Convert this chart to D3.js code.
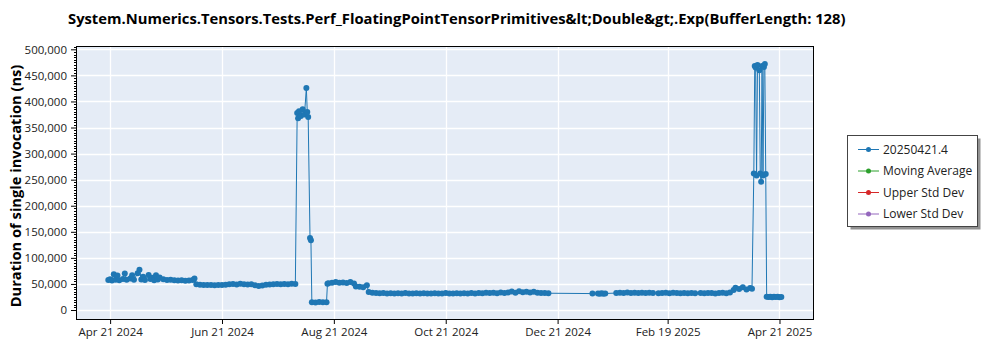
<!DOCTYPE html>
<html>
<head>
<meta charset="utf-8">
<script src="https://cdn.jsdelivr.net/npm/d3@7"></script>
<style>
  body { margin: 0; background: #fff; }
  svg { display: block; }
</style>
</head>
<body>
<script>
var title = 'System.Numerics.Tensors.Tests.Perf_FloatingPointTensorPrimitives&lt;Double&gt;.Exp(BufferLength: 128)';
var yTitle = 'Duration of single invocation (ns)';

var legendLabels = ['20250421.4', 'Moving Average', 'Upper Std Dev', 'Lower Std Dev'];
var legendColors = ['#1f77b4', '#2ca02c', '#d62728', '#9467bd'];

var xTickDates = ['2024-04-21', '2024-06-21', '2024-08-21', '2024-10-21', '2024-12-21', '2025-02-19', '2025-04-21'];
var yTickValues = [0, 50000, 100000, 150000, 200000, 250000, 300000, 350000, 400000, 450000, 500000];

// one entry per benchmark run
var runDates = [
  '2024-04-20', '2024-04-21', '2024-04-22', '2024-04-23', '2024-04-24', '2024-04-25', '2024-04-26', '2024-04-28', '2024-04-29', '2024-04-30',
  '2024-05-02', '2024-05-03', '2024-05-04', '2024-05-06', '2024-05-07', '2024-05-08', '2024-05-09', '2024-05-10', '2024-05-12', '2024-05-13',
  '2024-05-14', '2024-05-15', '2024-05-16', '2024-05-17', '2024-05-18', '2024-05-20', '2024-05-22', '2024-05-24', '2024-05-26', '2024-05-28',
  '2024-05-30', '2024-06-01', '2024-06-03', '2024-06-05', '2024-06-06', '2024-06-07', '2024-06-09', '2024-06-11', '2024-06-13', '2024-06-15',
  '2024-06-17', '2024-06-19', '2024-06-21', '2024-06-23', '2024-06-25', '2024-06-27', '2024-06-29', '2024-07-01', '2024-07-03', '2024-07-05',
  '2024-07-07', '2024-07-09', '2024-07-11', '2024-07-13', '2024-07-15', '2024-07-17', '2024-07-19', '2024-07-21', '2024-07-23', '2024-07-25',
  '2024-07-27', '2024-07-29', '2024-07-31', '2024-08-01', '2024-08-01 12:00', '2024-08-02', '2024-08-03', '2024-08-04', '2024-08-05', '2024-08-06',
  '2024-08-06 12:00', '2024-08-07', '2024-08-08', '2024-08-08 12:00', '2024-08-09', '2024-08-11', '2024-08-13', '2024-08-15', '2024-08-17', '2024-08-17 12:00',
  '2024-08-18', '2024-08-20', '2024-08-22', '2024-08-24', '2024-08-26', '2024-08-28', '2024-08-30', '2024-09-01', '2024-09-02', '2024-09-04',
  '2024-09-06', '2024-09-08', '2024-09-09', '2024-09-11', '2024-09-13', '2024-09-15', '2024-09-17', '2024-09-19', '2024-09-21', '2024-09-23',
  '2024-09-25', '2024-09-27', '2024-09-29', '2024-10-01', '2024-10-03', '2024-10-05', '2024-10-07', '2024-10-09', '2024-10-11', '2024-10-13',
  '2024-10-15', '2024-10-17', '2024-10-19', '2024-10-21', '2024-10-23', '2024-10-25', '2024-10-27', '2024-10-29', '2024-10-31', '2024-11-02',
  '2024-11-04', '2024-11-06', '2024-11-08', '2024-11-10', '2024-11-12', '2024-11-14', '2024-11-16', '2024-11-18', '2024-11-20', '2024-11-22',
  '2024-11-24', '2024-11-26', '2024-11-28', '2024-11-30', '2024-12-02', '2024-12-04', '2024-12-06', '2024-12-08', '2024-12-10', '2024-12-12',
  '2024-12-14', '2024-12-16', '2025-01-09', '2025-01-12', '2025-01-13', '2025-01-14', '2025-01-15', '2025-01-16', '2025-01-22', '2025-01-24',
  '2025-01-26', '2025-01-28', '2025-01-30', '2025-02-01', '2025-02-03', '2025-02-05', '2025-02-07', '2025-02-09', '2025-02-11', '2025-02-14',
  '2025-02-16', '2025-02-18', '2025-02-20', '2025-02-22', '2025-02-24', '2025-02-26', '2025-02-28', '2025-03-02', '2025-03-04', '2025-03-06',
  '2025-03-09', '2025-03-11', '2025-03-13', '2025-03-15', '2025-03-17', '2025-03-19', '2025-03-21', '2025-03-23', '2025-03-25', '2025-03-27',
  '2025-03-28', '2025-03-30', '2025-04-01', '2025-04-03', '2025-04-05', '2025-04-06', '2025-04-07', '2025-04-07 12:00', '2025-04-08', '2025-04-08 12:00',
  '2025-04-09', '2025-04-10', '2025-04-10 12:00', '2025-04-11', '2025-04-11 12:00', '2025-04-12', '2025-04-12 12:00', '2025-04-13', '2025-04-13 12:00', '2025-04-14',
  '2025-04-15', '2025-04-16', '2025-04-17', '2025-04-18', '2025-04-19', '2025-04-20', '2025-04-21', '2025-04-22'
];

var durations = [
  57500, 59000, 56800, 68500, 58000, 66000, 57200, 59500, 69800, 57800,
  60500, 66500, 58200, 70500, 77000, 58500, 64000, 57500, 67000, 59500,
  62000, 57000, 66500, 58500, 62500, 58800, 57500, 58000, 57000, 56500,
  57200, 56200, 56800, 57500, 60500, 49500, 48500, 48000, 47800, 48200,
  47500, 48000, 47800, 48500, 49200, 50000, 49000, 50200, 49500, 48800,
  49300, 47500, 46000, 46800, 48500, 49000, 49500, 49800, 49200, 50000,
  49500, 50200, 49800, 378000, 368000, 381000, 372000, 385000, 375000, 426000,
  380000, 370000, 138000, 134000, 15000, 14500, 15200, 14800, 15000, 50500,
  51500, 52500, 53500, 52500, 52800, 52000, 53500, 51000, 45000, 44500,
  43800, 47500, 34500, 33000, 32500, 32000, 32800, 31800, 32200, 31500,
  32000, 31600, 32400, 31800, 31500, 32100, 31700, 32300, 31600, 31900,
  32200, 31500, 31800, 32400, 31700, 31900, 32300, 31600, 32000, 31800,
  32500, 31900, 32700, 32100, 33200, 32400, 33000, 32300, 33500, 32600,
  33800, 35500, 33200, 36000, 34200, 35200, 33600, 34800, 33000, 32800,
  32500, 32200, 31500, 31800, 31200, 32000, 31400, 31700, 32500, 33200,
  32800, 33500, 32600, 33100, 32400, 33300, 32700, 33000, 32500, 32200,
  32400, 32900, 32300, 33100, 32600, 32200, 32800, 32000, 32500, 32300,
  32600, 32100, 32800, 32400, 31900, 32500, 33200, 32000, 33800, 38500,
  42500, 40500, 43500, 39500, 42000, 41000, 262000, 468000, 465000, 258000,
  470000, 460000, 262000, 246000, 468000, 258000, 466000, 472000, 261000, 25500,
  24800, 25200, 24500, 25600, 24900, 25300, 24700, 25100
];

var width = 1000;
var height = 350;
var plotLeft = 76.5, plotRight = 813.5, plotTop = 46.5, plotBottom = 319.5;

var parseDay = d3.timeParse('%Y-%m-%d');
var parseHour = d3.timeParse('%Y-%m-%d %H:%M');
function parseDate(s) {
  return s.length > 10 ? parseHour(s) : parseDay(s);
}

var points = runDates.map(function (d, i) {
  return { date: parseDate(d), value: durations[i] };
});

var x = d3.scaleTime()
  .domain([new Date(2024, 3, 2, 16), new Date(2025, 4, 9, 13)])
  .range([plotLeft, plotRight]);

var y = d3.scaleLinear()
  .domain([-18200, 505400])
  .range([plotBottom, plotTop]);

var svg = d3.select('body')
  .append('svg')
  .attr('width', width)
  .attr('height', height)
  .style('font-family', '"Open Sans", "Noto Sans", sans-serif');

// plot background
svg.append('rect')
  .attr('x', plotLeft)
  .attr('y', plotTop)
  .attr('width', plotRight - plotLeft)
  .attr('height', plotBottom - plotTop)
  .attr('fill', '#e5ecf6');

// grid
svg.append('g')
  .selectAll('line')
  .data(yTickValues)
  .enter()
  .append('line')
  .attr('x1', plotLeft)
  .attr('x2', plotRight)
  .attr('y1', function (d) { return Math.round(y(d)) + 0.5; })
  .attr('y2', function (d) { return Math.round(y(d)) + 0.5; })
  .attr('stroke', '#fff')
  .attr('stroke-width', 1.3);

svg.append('g')
  .selectAll('line')
  .data(xTickDates)
  .enter()
  .append('line')
  .attr('x1', function (d) { return Math.round(x(parseDay(d))) + 0.5; })
  .attr('x2', function (d) { return Math.round(x(parseDay(d))) + 0.5; })
  .attr('y1', plotTop)
  .attr('y2', plotBottom)
  .attr('stroke', '#fff')
  .attr('stroke-width', 1.3);

// series
var line = d3.line()
  .x(function (d) { return x(d.date); })
  .y(function (d) { return y(d.value); });

svg.append('path')
  .datum(points)
  .attr('d', line)
  .attr('fill', 'none')
  .attr('stroke', '#1f77b4')
  .attr('stroke-width', 1);

svg.append('g')
  .selectAll('circle')
  .data(points)
  .enter()
  .append('circle')
  .attr('cx', function (d) { return x(d.date); })
  .attr('cy', function (d) { return y(d.value); })
  .attr('r', 3)
  .attr('fill', '#1f77b4');

// frame
svg.append('rect')
  .attr('x', plotLeft)
  .attr('y', plotTop)
  .attr('width', plotRight - plotLeft)
  .attr('height', plotBottom - plotTop)
  .attr('fill', 'none')
  .attr('stroke', '#000')
  .attr('stroke-width', 1);

// y axis
var yAxis = svg.append('g')
  .attr('transform', 'translate(' + (plotLeft - 0.5) + ',0)')
  .call(d3.axisLeft(y)
    .tickValues(yTickValues)
    .tickFormat(d3.format(','))
    .tickSize(5)
    .tickPadding(4));
yAxis.select('.domain').remove();

var minorY = d3.range(0, 505001, 5000).filter(function (v) { return v % 50000 !== 0; });
svg.append('g')
  .selectAll('line')
  .data(minorY)
  .enter()
  .append('line')
  .attr('x1', plotLeft - 2.5)
  .attr('x2', plotLeft)
  .attr('y1', function (d) { return Math.round(y(d)) + 0.5; })
  .attr('y2', function (d) { return Math.round(y(d)) + 0.5; })
  .attr('stroke', '#000');

// x axis
var xAxis = svg.append('g')
  .attr('transform', 'translate(0,' + (plotBottom + 0.5) + ')')
  .call(d3.axisBottom(x)
    .tickValues(xTickDates.map(parseDay))
    .tickFormat(d3.timeFormat('%b %d %Y'))
    .tickSize(4)
    .tickPadding(4));
xAxis.select('.domain').remove();

svg.selectAll('.tick text')
  .attr('font-size', 11.5)
  .attr('font-family', '"Open Sans", "Noto Sans", sans-serif')
  .attr('fill', '#222');
svg.selectAll('.tick line').attr('stroke', '#000');

// titles
var titleText = svg.append('text')
  .attr('x', 68)
  .attr('y', 24)
  .attr('font-size', 15)
  .attr('font-weight', 'bold')
  .attr('fill', '#000')
  .text(title);
var tw = titleText.node().getComputedTextLength();
titleText.attr('font-size', 15 * 778 / tw);

var yTitleText = svg.append('text')
  .attr('transform', 'translate(21,' + ((plotTop + plotBottom) / 2 + 3) + ') rotate(-90)')
  .attr('text-anchor', 'middle')
  .attr('font-size', 16)
  .attr('font-weight', 'bold')
  .attr('fill', '#000')
  .text(yTitle);
var yw = yTitleText.node().getComputedTextLength();
yTitleText.attr('font-size', 16 * 243 / yw);

// legend
var legend = svg.append('g');
legend.append('rect')
  .attr('x', 850.5)
  .attr('y', 138.5)
  .attr('width', 130)
  .attr('height', 91)
  .attr('fill', '#777')
  .attr('opacity', 0.8);
legend.append('rect')
  .attr('x', 847.5)
  .attr('y', 135.5)
  .attr('width', 130)
  .attr('height', 91)
  .attr('fill', '#fff')
  .attr('stroke', '#444')
  .attr('stroke-width', 1);

var item = legend.selectAll('.item')
  .data(legendLabels)
  .enter()
  .append('g')
  .attr('class', 'item')
  .attr('transform', function (d, i) { return 'translate(0,' + (149.5 + i * 21.5) + ')'; });

item.append('line')
  .attr('x1', 858)
  .attr('x2', 879)
  .attr('stroke', function (d, i) { return legendColors[i]; })
  .attr('stroke-width', 1);
item.append('circle')
  .attr('cx', 868.5)
  .attr('r', 2.5)
  .attr('fill', function (d, i) { return legendColors[i]; });
item.append('text')
  .attr('x', 883)
  .attr('dy', '0.35em')
  .attr('font-size', 12)
  .attr('fill', '#222')
  .text(function (d) { return d; });
</script>
</body>
</html>
